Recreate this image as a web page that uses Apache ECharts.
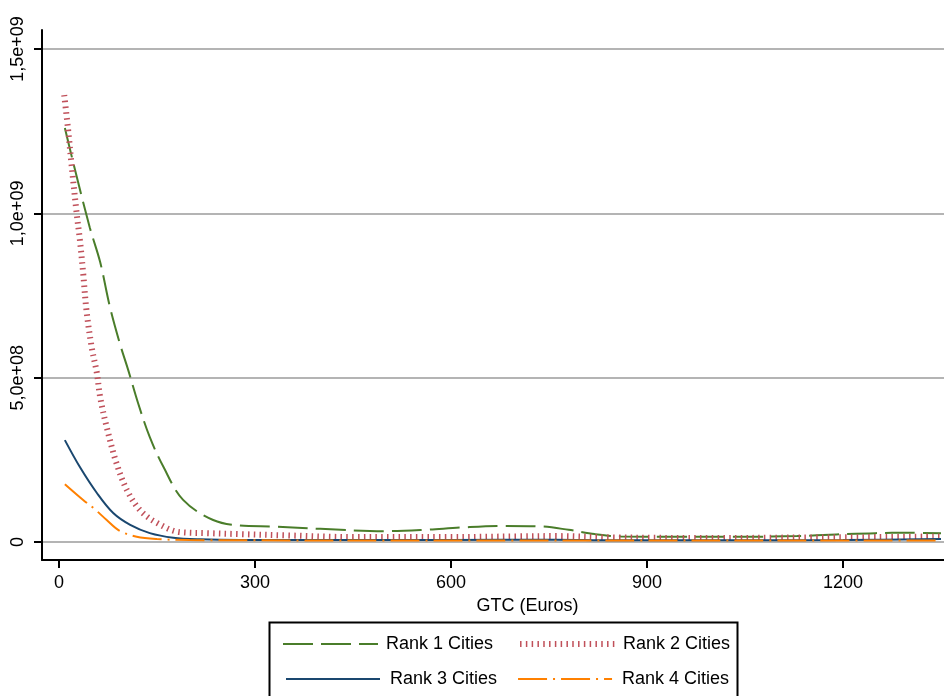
<!DOCTYPE html>
<html>
<head>
<meta charset="utf-8">
<script src="https://cdn.jsdelivr.net/npm/echarts@6/dist/echarts.min.js"></script>
<style>
  html, body { margin: 0; padding: 0; background: #fff; }
  #chart { width: 944px; height: 696px; }
</style>
</head>
<body>
<div id="chart"></div>
<script>
// GTC values (x) and density values (y), one pair of arrays per series
const rank1Gtc = [9, 22, 47, 63, 78, 93, 106, 121, 139, 160, 190, 236, 277, 330, 400, 500, 560, 615, 680, 740, 780, 820, 860, 950, 1050, 1130, 1190, 1250, 1300, 1350];
const rank1Val = [1.26e9, 1.153e9, 9.58e8, 8.52e8, 7.15e8, 6.05e8, 5.23e8, 4.23e8, 3.19e8, 2.28e8, 1.28e8, 6.7e7, 5.0e7, 4.7e7, 4.0e7, 3.3e7, 3.7e7, 4.4e7, 4.9e7, 4.7e7, 3.7e7, 2.4e7, 1.7e7, 1.6e7, 1.6e7, 1.8e7, 2.3e7, 2.7e7, 2.8e7, 2.7e7];

const rank2Gtc = [8, 14, 19, 27, 32, 37, 42, 50, 58, 63, 73, 88, 104, 124, 150, 185, 226, 277, 350, 450, 600, 700, 760, 850, 1000, 1150, 1250, 1350];
const rank2Val = [1.36e9, 1.254e9, 1.153e9, 1.001e9, 9.19e8, 8.18e8, 7.06e8, 5.93e8, 5.14e8, 4.41e8, 3.5e8, 2.4e8, 1.58e8, 9.7e7, 5.8e7, 3.0e7, 2.7e7, 2.4e7, 2.0e7, 1.5e7, 1.5e7, 1.7e7, 1.8e7, 1.4e7, 1.2e7, 1.4e7, 1.5e7, 1.7e7];

const rank3Gtc = [9, 32, 58, 83, 109, 139, 175, 216, 277, 400, 600, 760, 850, 1000, 1200, 1350];
const rank3Val = [3.1e8, 2.28e8, 1.49e8, 8.8e7, 5.2e7, 2.7e7, 1.3e7, 8e6, 6e6, 6e6, 6e6, 7e6, 5e6, 5e6, 6e6, 9e6];

const rank4Gtc = [9, 37, 53, 73, 93, 119, 150, 200, 300, 500, 700, 900, 1100, 1350];
const rank4Val = [1.76e8, 1.28e8, 1.03e8, 6.7e7, 3.4e7, 1.6e7, 9e6, 6e6, 5e6, 4.6e6, 4.6e6, 4.6e6, 4.6e6, 4.6e6];

const seriesNames = ['Rank 1 Cities', 'Rank 2 Cities', 'Rank 3 Cities', 'Rank 4 Cities'];
const xTicks = [0, 300, 600, 900, 1200];
const yTicks = [0, 5e8, 1e9, 1.5e9];

function pairs(xs, ys) {
  return xs.map((x, i) => [x, ys[i]]);
}

// Stata style: 1,5e+09
function yLabel(v) {
  if (v === 0) return '0';
  return v.toExponential(1).replace('.', ',').replace(/e\+(\d)$/, 'e+0$1');
}

const chart = echarts.init(document.getElementById('chart'));

const font = 'Liberation Sans, Arial, Helvetica, sans-serif';

const option = {
  backgroundColor: '#fff',
  animation: false,
  grid: { left: 42, right: 0, top: 30, bottom: 136, containLabel: false },
  xAxis: {
    type: 'value',
    min: -26,
    max: 1354.6,
    name: 'GTC (Euros)',
    nameLocation: 'middle',
    nameGap: 28,
    nameTextStyle: { fontSize: 18, color: '#000', fontFamily: font, padding: [0, 0, 0, 69] },
    axisLine: { show: true, onZero: false, lineStyle: { color: '#000', width: 2 } },
    axisTick: { show: true, length: 8, lineStyle: { color: '#000', width: 2 }, customValues: xTicks },
    axisLabel: {
      fontSize: 18, color: '#000', fontFamily: font, margin: 14,
      customValues: xTicks, formatter: v => String(v)
    },
    splitLine: { show: false }
  },
  yAxis: {
    type: 'value',
    min: -5.477e7,
    max: 1.558e9,
    axisLine: { show: true, onZero: false, lineStyle: { color: '#000', width: 2 } },
    axisTick: { show: true, length: 8, lineStyle: { color: '#000', width: 2 }, customValues: yTicks },
    axisLabel: {
      fontSize: 18, color: '#000', fontFamily: font, rotate: 90, margin: 15,
      customValues: yTicks, formatter: yLabel
    },
    splitLine: { show: true, lineStyle: { color: '#b4b4b4', width: 2 } }
  },
  legend: [
    {
      left: 282, top: 635, padding: 0, itemWidth: 95, itemHeight: 14, itemGap: 24,
      itemStyle: { opacity: 0 },
      textStyle: { fontSize: 18, color: '#000', fontFamily: font, padding: [0, 0, 0, 3] },
      data: [seriesNames[0], { name: seriesNames[1], lineStyle: { width: 6 } }]
    },
    {
      left: 285, top: 670, padding: 0, itemWidth: 94, itemHeight: 14, itemGap: 20,
      itemStyle: { opacity: 0 },
      textStyle: { fontSize: 18, color: '#000', fontFamily: font, padding: [0, 0, 0, 5] },
      data: [seriesNames[2], seriesNames[3]]
    }
  ],
  graphic: [{
    type: 'rect',
    left: 267,
    top: 620,
    shape: { width: 468, height: 100 },
    style: { fill: 'none', stroke: '#000', lineWidth: 2 },
    z: 1
  }],
  series: [
    {
      name: seriesNames[0], type: 'line', symbol: 'none', smooth: 0.35,
      data: pairs(rank1Gtc, rank1Val),
      lineStyle: { color: '#4a7d2a', width: 2, type: [30, 8], cap: 'butt' },
      itemStyle: { color: '#4a7d2a' }
    },
    {
      name: seriesNames[1], type: 'line', symbol: 'none', smooth: 0.35,
      data: pairs(rank2Gtc, rank2Val),
      lineStyle: { color: '#c0505a', width: 6, type: [1.5, 4.3], cap: 'butt' },
      itemStyle: { color: '#c0505a' }
    },
    {
      name: seriesNames[2], type: 'line', symbol: 'none', smooth: 0.35,
      data: pairs(rank3Gtc, rank3Val),
      lineStyle: { color: '#1a476f', width: 2, type: 'solid' },
      itemStyle: { color: '#1a476f' }
    },
    {
      name: seriesNames[3], type: 'line', symbol: 'none', smooth: 0.35,
      data: pairs(rank4Gtc, rank4Val),
      lineStyle: { color: '#ff8000', width: 2, type: [29, 6, 2, 6], cap: 'butt' },
      itemStyle: { color: '#ff8000' }
    }
  ]
};

chart.setOption(option);

window.addEventListener('resize', function () {
  chart.resize();
});
</script>
</body>
</html>
